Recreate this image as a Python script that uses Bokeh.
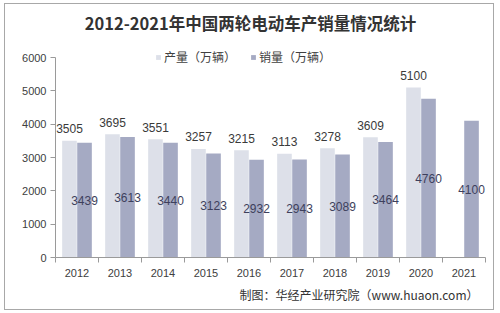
from bokeh.plotting import figure
from bokeh.models import (ColumnDataSource, FixedTicker, Range1d, Label, Legend, LegendItem,
                          LabelSet, Title, InlineStyleSheet)
from bokeh.core.properties import value
from bokeh.transform import dodge
from bokeh.embed import file_html
from bokeh.resources import INLINE

years = ["2012", "2013", "2014", "2015", "2016", "2017", "2018", "2019", "2020", "2021"]
production = [3505, 3695, 3551, 3257, 3215, 3113, 3278, 3609, 5100, None]
sales = [3439, 3613, 3440, 3123, 2932, 2943, 3089, 3464, 4760, 4100]
title_text = "2012-2021年中国两轮电动车产销量情况统计"
legend_labels = ["产量（万辆）", "销量（万辆）"]
source_text = "制图：华经产业研究院（www.huaon.com）"
y_ticks = [0, 1000, 2000, 3000, 4000, 5000, 6000]

LIGHT = "#dde0e9"
DARK = "#a5aac3"
FONT = "Liberation Sans"
CJK = "Noto Sans CJK SC"

idx = [i + 0.5 for i in range(len(years))]
prod_vals = [v if v is not None else float("nan") for v in production]
prod_lbl = [str(v) if v is not None else "" for v in production]
src = ColumnDataSource(dict(
    x=idx, prod=prod_vals, sales=sales,
    prod_lbl=prod_lbl, sales_lbl=[str(v) for v in sales],
    sales_mid=[v / 2 for v in sales],
))

# frame: canvas x 55..485, y 0..257 ; 6000 units = 200 px
p = figure(width=500, height=313, output_backend="svg", toolbar_location=None,
           x_range=Range1d(0, len(years)), y_range=Range1d(0, 7710),
           min_border_left=55, min_border_right=15, min_border_top=0, min_border_bottom=56)
p.outline_line_color = None
p.background_fill_color = "white"
p.border_fill_color = "white"
p.xgrid.grid_line_color = None
p.ygrid.grid_line_color = None
p.stylesheets = [InlineStyleSheet(css=(
    ":host { position: relative; }\n"
    ":host::after { content: ''; position: absolute; left: 4px; top: 3px; right: 6px; bottom: 3px;"
    " border: 1.5px solid #a8a8a8; pointer-events: none; z-index: 1000; }"
))]

r1 = p.vbar(x=dodge("x", -0.175, range=p.x_range), top="prod", width=0.34, source=src,
            fill_color=LIGHT, line_color=None)
r2 = p.vbar(x=dodge("x", 0.175, range=p.x_range), top="sales", width=0.34, source=src,
            fill_color=DARK, line_color=None)

p.add_layout(LabelSet(x=dodge("x", -0.175, range=p.x_range), y="prod", text="prod_lbl", source=src,
                      text_align="center", text_baseline="middle", y_offset=12,
                      text_font=value(FONT), text_font_size="12px", text_color="#3a3a3a"))
p.add_layout(LabelSet(x=dodge("x", 0.175, range=p.x_range), y="sales_mid", text="sales_lbl", source=src,
                      text_align="center", text_baseline="middle",
                      text_font=value(FONT), text_font_size="12px", text_color="#3d3f5c"))

# axes
xa = p.xaxis[0]
xa.ticker = FixedTicker(ticks=idx, minor_ticks=list(range(len(years) + 1)))
xa.major_label_overrides = {v: y for v, y in zip(idx, years)}
xa.major_tick_line_color = None
xa.minor_tick_in = 0
xa.minor_tick_out = 5
xa.minor_tick_line_color = "#9a9a9a"
xa.axis_line_color = "#9a9a9a"
xa.major_label_text_font = FONT
xa.major_label_text_font_size = "11px"
xa.major_label_text_color = "#404040"
xa.major_label_standoff = 5

ya = p.yaxis[0]
ya.ticker = FixedTicker(ticks=y_ticks)
ya.bounds = (0, 6000)
ya.minor_tick_line_color = None
ya.major_tick_in = 0
ya.major_tick_out = 5
ya.major_tick_line_color = "#9a9a9a"
ya.axis_line_color = "#9a9a9a"
ya.major_label_text_font = FONT
ya.major_label_text_font_size = "11px"
ya.major_label_text_color = "#404040"
ya.major_label_standoff = 4

legend = Legend(items=[LegendItem(label=legend_labels[0], renderers=[r1]),
                       LegendItem(label=legend_labels[1], renderers=[r2])],
                orientation="horizontal", location=(100, 192),
                glyph_width=6, glyph_height=6, label_text_font=CJK, label_text_font_size="12px",
                label_text_color="#404040", padding=0, spacing=14, label_standoff=3,
                border_line_color=None, background_fill_alpha=0)
p.add_layout(legend)

p.add_layout(Label(x=195, y=235, x_units="screen", y_units="screen", text=title_text,
                   text_align="center", text_baseline="middle", text_font=CJK,
                   text_font_size="16.5px", text_font_style="bold", text_color="#333333"))

foot = Title(text=source_text, align="right", text_font=CJK, text_font_size="12px",
             text_font_style="normal", text_color="#333333", offset=7, standoff=8)
p.add_layout(foot, "below")

open("out.html", "w").write(file_html(p, INLINE))
